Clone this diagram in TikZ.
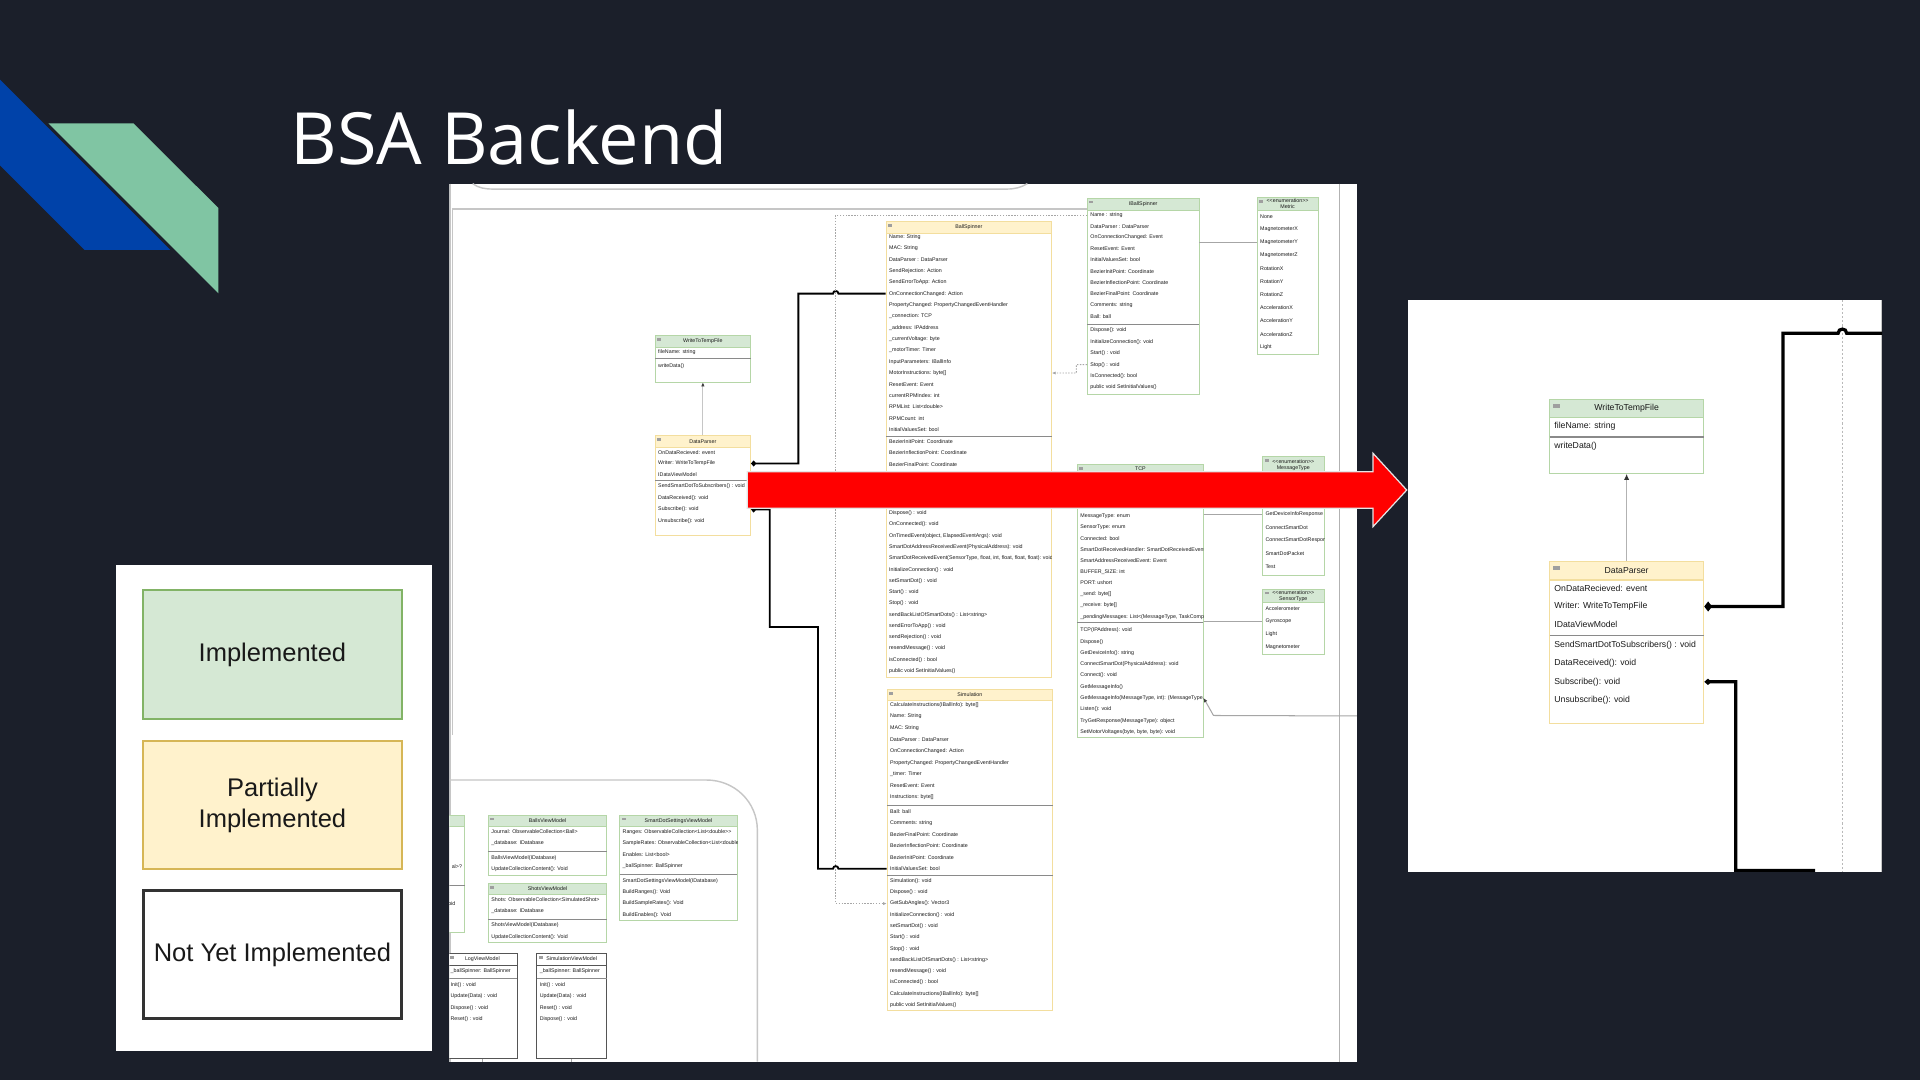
\documentclass[tikz,border=0pt]{standalone}
\usepackage{fontspec}
\newfontfamily\arial{Liberation Sans}
\newfontfamily\titlefont{Open Sans}
\usetikzlibrary{fit,arrows.meta}
\definecolor{bgc}{HTML}{1B1F2A}
\definecolor{logoblue}{HTML}{0042A9}
\definecolor{logogreen}{HTML}{80C5A3}
\definecolor{Gfill}{HTML}{D5E8D4}
\definecolor{Gline}{HTML}{B5D6A7}
\definecolor{Yfill}{HTML}{FFF2CC}
\definecolor{Yline}{HTML}{F3DE9E}
\definecolor{Wfill}{HTML}{FFFFFF}
\definecolor{Wline}{HTML}{555555}
\definecolor{LGline}{HTML}{82B366}
\definecolor{LYline}{HTML}{D6B656}
\definecolor{txtc}{HTML}{1A1A1A}
\definecolor{sepc}{HTML}{8A8A8A}
\definecolor{framec}{HTML}{C6C6C6}
\newcommand\rowfont{\arial\fontsize{2.6}{3}\selectfont}
\newcommand\rowinset{2.2}
\newcommand\clw{0.35pt}
\newcommand\ics{1}
\tikzset{
  rowtext/.style={anchor=west, inner sep=0pt, text=txtc, font=\rowfont},
  clstitle/.style={inner sep=0pt, text=txtc, font=\rowfont, align=center},
  legbox/.style={minimum width=126.6pt, minimum height=63pt, align=center, text=black!90,
    font=\arial\fontsize{12.5}{15}\selectfont, line width=0.9pt},
  compm/.style={draw=black, line width=0.9pt, {Diamond[length=2.6pt,width=3pt]}-},
  compz/.style={draw=black, line width=1.6pt, {Diamond[length=3.8pt,width=5pt]}-},
  compzs/.style={draw=black, line width=1.6pt, {Diamond[length=3.6pt,width=3.1pt]}-},
  dotc/.style={draw=gray!70, line width=0.45pt, dash pattern=on 0.7pt off 0.7pt},
  assoc/.style={draw=gray!70, line width=0.5pt},
  framel/.style={draw=framec, line width=0.7pt},
}
\newcommand\uclass[8]{%
  \node[fit={(#2,#3) (#4,#5)}, inner sep=0pt, draw=#7line, fill=white, line width=\clw] (#1) {};
  \draw[fill=#7fill, draw=#7line, line width=\clw] (#2,#3) rectangle (#4,#6);
  \fill[gray!75] ({#2+1.7*\ics},{#3+2.2*\ics}) rectangle ({#2+5*\ics},{#3+4.4*\ics});
  \node[clstitle] (#1t) at ({(#2+#4)/2},{(#3+#6)/2}) {#8};
}
\newcommand\usep[3]{\draw[draw=sepc, line width=\clw] (#1,#3) -- (#2,#3);}
\newcommand\urows[6]{%
  \begin{scope}
    \clip (#2,0) rectangle (#3,900);
    \foreach \tx [count=\k from 0] in {#6}{
      \node[rowtext] (#1\k) at ({#2+\rowinset},{#4+\k*#5}) {\tx};
    }
  \end{scope}}
\begin{document}
\begin{tikzpicture}[x=0.6pt,y=-0.6pt]
\useasboundingbox (0,0) rectangle (1568,882);
\fill[bgc] (0,0) rectangle (1568,882);
% logo
\fill[logoblue] (0,65) -- (139,204) -- (69,204) -- (0,135) -- cycle;
\fill[logogreen] (39.6,100.7) -- (109,100.7) -- (178.4,170) -- (178.4,239.5) -- cycle;
% title
\node[anchor=base west, inner sep=0pt, text=white, font=\titlefont\fontsize{35.3}{40}\selectfont] (title) at (237,134) {BSA Backend};
% legend
\node[fit={(95,461) (353,858)}, inner sep=0pt, fill=white] (legend) {};
\node[legbox, fill=Gfill, draw=LGline] (limpl) at (222.5,534.5) {Implemented};
\node[legbox, fill=Yfill, draw=LYline] (lpart) at (222.5,657.5) {Partially\\Implemented};
\node[legbox, fill=white, draw=black!80, line width=1.3pt] (lnot) at (222.5,779.5) {Not Yet Implemented};

% ================= main diagram panel =================
\begin{scope}
\clip (367,150) rectangle (1108,867);
\fill[white] (367,150) rectangle (1108,867);
\draw[framel] (367.6,150) -- (367.6,867);
\draw[framel] (386,150) .. controls (391,153.6) and (396,154.4) .. (403,154.4) -- (822,154.4) .. controls (829,154.4) and (834,153) .. (839,150);
\draw[framel] (369.6,600) -- (369.6,170.7) -- (888,170.7);
\draw[draw=gray!60, line width=0.8pt] (1094,150) -- (1094,867);
\draw[framel] (367,637) -- (577,637) .. controls (600,637) and (618.5,655) .. (618.5,678) -- (618.5,867);

% WriteToTempFile
\uclass{wtf}{535}{274}{613}{312}{283.5}{G}{WriteToTempFile}
\usep{535}{613}{292.4}
\urows{wtff}{535}{613}{287.7}{9}{fileName: string}
\urows{wtfm}{535}{613}{298.6}{9}{writeData()}
% DataParser
\uclass{dp}{535}{355.8}{613}{437.5}{365.3}{Y}{DataParser}
\usep{535}{613}{392.5}
\urows{dpf}{535}{613}{369.4}{9.1}{OnDataRecieved: event, Writer: WriteToTempFile, IDataViewModel}
\urows{dpm}{535}{613}{397.4}{9.37}{SendSmartDotToSubscribers() : void, DataReceived(): void, Subscribe(): void, Unsubscribe(): void}

% BallSpinner (partial)
\uclass{bsy}{723.6}{181}{858.8}{553}{190.4}{Y}{BallSpinner}
\usep{723.6}{858.8}{356}
\urows{bsy}{723.6}{858.8}{193.5}{9.26}{Name: String, MAC: String, DataParser : DataParser, SendRejection: Action, SendErrorToApp: Action, OnConnectionChanged: Action, PropertyChanged: PropertyChangedEventHandler, \_connection: TCP, \_address: IPAddress, \_currentVoltage: byte, \_motorTimer: Timer, InputParameters: IBallInfo, MotorInstructions: byte[], ResetEvent: Event, currentRPMIndex: int, RPMList: List<double>, RPMCount: int, InitialValuesSet: bool}
\urows{bsyb}{723.6}{858.8}{360.7}{9.2}{BezierInitPoint: Coordinate, BezierInflectionPoint: Coordinate, BezierFinalPoint: Coordinate}
\urows{bsym}{723.6}{858.8}{419.2}{9.2}{Dispose() : void, OnConnected(): void, {OnTimedEvent(object, ElapsedEventArgs): void}, SmartDotAddressReceivedEvent(PhysicalAddress): void, {SmartDotReceivedEvent(SensorType, float, int, float, float, float): void}, InitializeConnection() : void, setSmartDot() : void, Start() : void, Stop() : void, sendBackListOfSmartDots() : List<string>, sendErrorToApp() : void, sendRejection() : void, resendMessage() : void, isConnected() : bool, public void SetInitialValues()}

% Simulation
\uclass{sim}{724.4}{562.8}{859.7}{825.4}{572.2}{Y}{Simulation}
\usep{724.4}{859.7}{658}
\usep{724.4}{859.7}{714.6}
\urows{sima}{724.4}{859.7}{575.8}{9.4}{CalculateInstructions(IBallInfo): byte[], Name: String, MAC: String, DataParser : DataParser, OnConnectionChanged: Action, PropertyChanged: PropertyChangedEventHandler, \_timer: Timer, ResetEvent: Event, Instructions: byte[]}
\urows{simb}{724.4}{859.7}{663}{9.3}{Ball: ball, Comments: string, BezierFinalPoint: Coordinate, BezierInflectionPoint: Coordinate, BezierInitPoint: Coordinate, InitialValuesSet: bool}
\urows{simc}{724.4}{859.7}{719.5}{9.2}{Simulation(): void, Dispose() : void, GetSubAngles(): Vector3, InitializeConnection() : void, setSmartDot() : void, Start() : void, Stop() : void, sendBackListOfSmartDots() : List<string>, resendMessage() : void, isConnected() : bool, CalculateInstructions(IBallInfo): byte[], public void SetInitialValues()}

% IBallSpinner
\uclass{bsg}{888}{161.7}{979.2}{321.7}{171.5}{G}{IBallSpinner}
\usep{888}{979.2}{264.6}
\urows{bsgf}{888}{979.2}{175.6}{9.19}{Name : string, DataParser : DataParser, OnConnectionChanged: Event, ResetEvent: Event, InitialValuesSet: bool, BezierInitPoint: Coordinate, BezierInflectionPoint: Coordinate, BezierFinalPoint: Coordinate, Comments: string, Ball: ball}
\urows{bsgm}{888}{979.2}{270}{9.26}{Dispose(): void, InitializeConnection(): void, Start() : void, Stop() : void, IsConnected(): bool, public void SetInitialValues()}

% Metric
\uclass{met}{1026.6}{161}{1076.4}{289}{172}{G}{<{}<enumeration>{}>\\Metric}
\urows{met}{1026.6}{1076.4}{176.7}{10.69}{None, MagnetometerX, MagnetometerY, MagnetometerZ, RotationX, RotationY, RotationZ, AccelerationX, AccelerationY, AccelerationZ, Light}

% TCP
\uclass{tcp}{879.8}{379.2}{982.7}{602}{386}{G}{TCP}
\usep{879.8}{982.7}{508.5}
\urows{tcpf}{879.8}{982.7}{421.2}{9.16}{MessageType: enum, SensorType: enum, Connected: bool, SmartDotReceivedHandler: SmartDotReceivedEvent, SmartAddressReceivedEvent: Event, BUFFER\_SIZE: int, PORT: ushort, \_send: byte[], \_receive: byte[], {\_pendingMessages: List<(MessageType, TaskCompletionSource<object>)>}}
\urows{tcpm}{879.8}{982.7}{514.8}{9.22}{TCP(IPAddress): void, Dispose(), GetDeviceInfo(): string, ConnectSmartDot(PhysicalAddress): void, Connect(): void, GetMessageInfo(), {GetMessageInfo(MessageType, int): (MessageType, byte[])}, Listen(): void, TryGetResponse(MessageType): object, {SetMotorVoltages(byte, byte, byte): void}}

% MessageType
\uclass{mt}{1031}{373}{1081.3}{469.6}{386}{G}{<{}<enumeration>{}>\\MessageType}
\urows{mt}{1031}{1081.3}{419.8}{10.75}{GetDeviceInfoResponse, ConnectSmartDot, ConnectSmartDotResponse, SmartDotPacket, Test}
% SensorType
\uclass{st}{1031}{481}{1081.3}{534.4}{492.2}{G}{<{}<enumeration>{}>\\SensorType}
\urows{st}{1031}{1081.3}{496.8}{10.6}{Accelerometer, Gyroscope, Light, Magnetometer}

% bottom-left view models
\uclass{lp}{300}{665.6}{379.5}{761.4}{675}{G}{}
\usep{300}{379.5}{722.8}
\node[rowtext, anchor=east] (lp0) at (377.6,708) {al>?};
\node[rowtext, anchor=east] (lp1) at (372.2,737.6) {oid};

\uclass{bvm}{398.8}{665.6}{495.4}{714.6}{675.1}{G}{BallsViewModel}
\usep{398.8}{495.4}{695}
\urows{bvmf}{398.8}{495.4}{679.2}{9.5}{Journal: ObservableCollection<Ball>, \_database: IDatabase}
\urows{bvmm}{398.8}{495.4}{701}{8.6}{BallsViewModel(IDatabase), UpdateCollectionContent(): Void}

\uclass{svm}{398.8}{721.4}{495.4}{769.8}{730.4}{G}{ShotsViewModel}
\usep{398.8}{495.4}{750.8}
\urows{svmf}{398.8}{495.4}{734.5}{9.5}{Shots: ObservableCollection<SimulatedShot>, \_database: IDatabase}
\urows{svmm}{398.8}{495.4}{755.4}{9.6}{ShotsViewModel(IDatabase), UpdateCollectionContent(): Void}

\uclass{sdvm}{506}{665.6}{602.1}{751.9}{675.1}{G}{SmartDotSettingsViewModel}
\usep{506}{602.1}{714}
\urows{sdvmf}{506}{602.1}{679.2}{9.33}{Ranges: ObservableCollection<List<double>>, SampleRates: ObservableCollection<List<double>>, Enables: List<bool>, \_ballSpinner: BallSpinner}
\urows{sdvmm}{506}{602.1}{719.2}{9.33}{SmartDotSettingsViewModel(IDatabase), BuildRanges(): Void, BuildSampleRates(): Void, BuildEnables(): Void}

\uclass{lvm}{365.5}{778.5}{422.4}{864.3}{788}{W}{LogViewModel}
\usep{365.5}{422.4}{799}
\urows{lvmf}{365.5}{422.4}{792.7}{9}{\_ballSpinner: BallSpinner}
\urows{lvmm}{365.5}{422.4}{804.4}{9.27}{Init() : void, Update(Data) : void, Dispose() : void, Reset() : void}

\uclass{simvm}{438.3}{778.5}{495.4}{864.3}{788}{W}{SimulationViewModel}
\usep{438.3}{495.4}{799}
\urows{simvmf}{438.3}{495.4}{792.7}{9}{\_ballSpinner: BallSpinner}
\urows{simvmm}{438.3}{495.4}{804.4}{9.27}{Init() : void, Update(Data) : void, Reset() : void, Dispose() : void}

% connectors
\draw[draw=gray!45, line width=0.6pt, -{Latex[length=2pt,width=1.8pt,color=black!75]}] (dp.north) -- (wtf.south);
\draw[compm] (dp.east |- dpf1) -- (652,378.5) -- (652,239.8) -- (680.3,239.8) .. controls (680.3,236.9) and (684.7,236.9) .. (684.7,239.8) -- (bsy.west |- bsy5);
\draw[compm] (dp.east |- dpm2) -- (628.6,416.14) -- (628.6,512) -- (668,512) -- (668,709.5) -- (680.3,709.5) .. controls (680.3,706.6) and (684.7,706.6) .. (684.7,709.5) -- (sim.west |- simb5);
\draw[dotc, -{Latex[length=1.8pt,width=1.6pt]}] (bsg.west |- bsgf0) -- (682.5,175.6) -- (682.5,737.9) -- (sim.west |- simc2);
\draw[dotc, -{Latex[length=1.8pt,width=1.6pt]}] (bsg.west |- bsgm3) -- (879,297.78) -- (879,304.62) -- (bsy.east |- bsy12);
\draw[assoc] (bsg.east |- met2) -- (met.west |- met2);
\draw[assoc] (tcp.east |- mt0) -- (mt.west |- mt0);
\draw[assoc] (tcp.east |- st1) -- (st.west |- st1);
\coordinate (tcpin) at (1110,584.7);
\draw[assoc, -{Latex[length=2pt,width=1.8pt,color=black!75]}] (tcpin) -- (991,584.3) -- (tcp.east |- tcpm6);
\coordinate (lvmout) at (393.95,872);
\coordinate (simvmout) at (466.85,872);
\draw[assoc] (lvm.south) -- (lvmout);
\draw[assoc] (simvm.south) -- (simvmout);
\end{scope}

% ================= zoomed panel =================
\begin{scope}
\renewcommand\rowfont{\arial\fontsize{4.25}{5}\selectfont}
\renewcommand\rowinset{3.6}
\renewcommand\clw{0.6pt}
\renewcommand\ics{1.615}
\fill[white] (1150,245) rectangle (1537,712);
\clip (1150,245) rectangle (1537,712);
\draw[draw=gray!45, line width=0.5pt] (1536.3,245) -- (1536.3,712);
\draw[draw=gray!55, line width=0.55pt, dash pattern=on 1pt off 1pt] (1504.6,245) -- (1504.6,712);
\uclass{wtfz}{1265.5}{326}{1391.3}{386.4}{341}{G}{WriteToTempFile}
\usep{1265.5}{1391.3}{356.8}
\urows{wtfzf}{1265.5}{1391.3}{348.3}{15}{fileName: string}
\urows{wtfzm}{1265.5}{1391.3}{364.3}{15}{writeData()}
\uclass{dpz}{1265.5}{458.6}{1391.3}{591}{473.7}{Y}{DataParser}
\usep{1265.5}{1391.3}{519}
\urows{dpzf}{1265.5}{1391.3}{480.4}{14.9}{OnDataRecieved: event, Writer: WriteToTempFile, IDataViewModel}
\urows{dpzm}{1265.5}{1391.3}{526.6}{15.1}{SendSmartDotToSubscribers() : void, DataReceived(): void, Subscribe(): void, Unsubscribe(): void}
\draw[draw=gray!60, line width=0.65pt, -{Latex[length=3pt,width=2.6pt,color=black!80]}] (dpz.north) -- (wtfz.south);
\coordinate (zout1) at (1545,272.2);
\coordinate (zout2) at (1481,722);
\draw[compz] (dpz.east |- dpzf1) -- (1456.1,495.3) -- (1456.1,272.2) -- (1501.1,272.2) .. controls (1501.1,267.6) and (1508.1,267.6) .. (1508.1,272.2) -- (zout1);
\draw[compzs] (dpz.east |- dpzm2) -- (1417.5,556.8) -- (1417.5,711) -- (1481,711) -- (zout2);
\end{scope}

% red arrow
\draw[fill=red, draw=white!80!gray, line width=0.6pt] (610.3,385.2) -- (1121.3,385.2) -- (1121.3,370.2) -- (1148.8,400.2) -- (1121.3,430.1) -- (1121.3,415.1) -- (610.3,415.1) -- cycle;
\end{tikzpicture}
\end{document}
